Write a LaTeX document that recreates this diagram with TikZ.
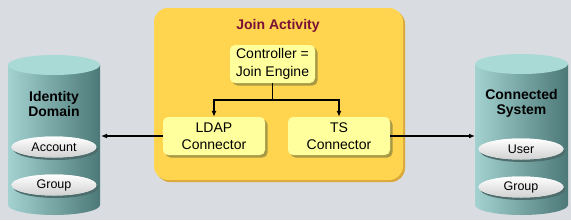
\documentclass[tikz,border=0pt]{standalone}
\usepackage{fontspec}
\setmainfont{Liberation Sans}
\usetikzlibrary{positioning, shapes.geometric, arrows.meta, shadows}
\definecolor{paper}{HTML}{D9DCE1}
\definecolor{gold}{HTML}{FFD54F}
\definecolor{goldshade}{HTML}{D9A93A}
\definecolor{pale}{HTML}{FFFF9E}
\definecolor{paleshade}{HTML}{A89A45}
\definecolor{wine}{HTML}{7A1036}
\definecolor{tealtop}{HTML}{AADAD6}
\definecolor{teallight}{HTML}{A3D2D0}
\definecolor{tealmid}{HTML}{86B8B6}
\definecolor{tealdark}{HTML}{4C7978}
\definecolor{diskshade}{HTML}{4E6E6D}

\begin{document}
\begin{tikzpicture}[x=1pt, y=-1pt,
    every node/.style={font=\fontsize{14}{17.5}\selectfont, text=black, align=center},
    title/.style={font=\fontsize{14}{15}\selectfont\bfseries},
    unit/.style={draw=none, fill=pale, rounded corners=5pt, inner sep=0pt,
      drop shadow={shadow xshift=2.5pt, shadow yshift=-2.5pt, fill=paleshade, opacity=1}},
    disk/.style={ellipse, fill=white, inner sep=0pt, minimum width=85pt, minimum height=21pt,
      top color=white, bottom color=black!18, font=\fontsize{12.5}{14}\selectfont,
      drop shadow={shadow xshift=2pt, shadow yshift=-2.5pt, fill=diskshade, opacity=1}},
    link/.style={line width=1.6pt, -{Latex[length=6pt, width=5pt]}}
  ]
    \useasboundingbox (0,0) rectangle (571,220);
    \fill[paper] (0,0) rectangle (571,220);

    % Join activity
    \fill[goldshade, rounded corners=14pt] (156,10) rectangle (405,182);
    \fill[gold, rounded corners=14pt] (154,8) rectangle (403,180);
    \node[title, text=wine] (join) at (278,26) {Join Activity};
    \node[unit, minimum width=85pt, minimum height=38pt] (ctrl) at (272.5,64) {Controller =\\Join Engine};
    \node[unit, minimum width=102pt, minimum height=38pt] (ldap) at (214,136) {LDAP\\Connector};
    \node[unit, minimum width=102pt, minimum height=38pt] (ts) at (339,136) {TS\\Connector};

    % Identity domain
    \shade[left color=teallight, middle color=tealmid, right color=tealdark]
      (8,65) -- (8,205) arc[start angle=180, end angle=360, x radius=46pt, y radius=10pt] -- (100,65) -- cycle;
    \fill[tealtop] (54,65) ellipse[x radius=46pt, y radius=10pt];
    \node[title] (idd) at (54,104) {Identity\\Domain};
    \node[disk] (acct) at (54,147) {Account};
    \node[disk] (grp1) at (54,185) {Group};
    \coordinate (iddin) at (101,136);

    % Connected system
    \shade[left color=teallight, middle color=tealmid, right color=tealdark]
      (475,64) -- (475,205) arc[start angle=180, end angle=360, x radius=46.5pt, y radius=10pt] -- (568,64) -- cycle;
    \fill[tealtop] (521.5,64) ellipse[x radius=46.5pt, y radius=10pt];
    \node[title] (csys) at (521.5,103) {Connected\\System};
    \node[disk] (user) at (521,149) {User};
    \node[disk] (grp2) at (521,187) {Group};
    \coordinate (csysin) at (475,136);

    % Connectors
    \draw[link] (ctrl.south) -- ++(0,17) -| (ldap.north);
    \draw[link] (ctrl.south) -- ++(0,17) -| (ts.north);
    \draw[link] (ldap.west) -- (iddin);
    \draw[link] (ts.east) -- (csysin);
  \end{tikzpicture}
\end{document}
